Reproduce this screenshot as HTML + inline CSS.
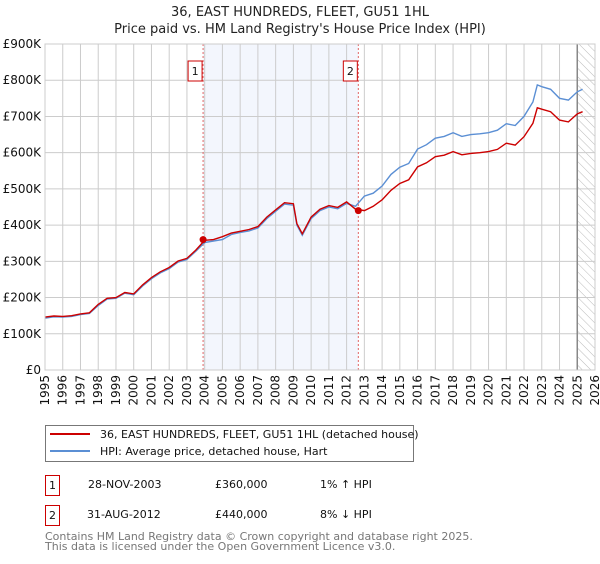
<!DOCTYPE html>
<html><head><meta charset="utf-8"><style>
body{margin:0;background:#fff;width:600px;height:560px;overflow:hidden;font-family:"DejaVu Sans","Liberation Sans",sans-serif;}
svg text{font-family:"DejaVu Sans","Liberation Sans",sans-serif;}
</style></head><body>
<svg id="c" width="600" height="560">
<defs><pattern id="hatch" width="6" height="6" patternUnits="userSpaceOnUse" patternTransform="rotate(-45)"><line x1="0" y1="0" x2="0" y2="6" stroke="#bbb" stroke-width="1"/></pattern></defs>
<text x="300" y="16" text-anchor="middle" font-size="13" fill="#222">36, EAST HUNDREDS, FLEET, GU51 1HL</text>
<text x="300" y="33" text-anchor="middle" font-size="13" fill="#222">Price paid vs. HM Land Registry's House Price Index (HPI)</text>
<g id="plot"></g>
<g>
<rect x="45.5" y="425.5" width="368" height="36" fill="#fff" stroke="#777"/>
<line x1="50" y1="434" x2="90" y2="434" stroke="#cc0000" stroke-width="2"/>
<text x="100" y="438" font-size="11" fill="#111">36, EAST HUNDREDS, FLEET, GU51 1HL (detached house)</text>
<line x1="50" y1="451" x2="90" y2="451" stroke="#5b8fd4" stroke-width="2"/>
<text x="100" y="455" font-size="11" fill="#111">HPI: Average price, detached house, Hart</text>
</g>
<g font-size="11" fill="#111">
<rect x="45.5" y="475.5" width="14" height="20" fill="#fff" stroke="#cc0000"/><text x="52.5" y="489" text-anchor="middle">1</text>
<text x="88" y="488">28-NOV-2003</text><text x="215" y="488">£360,000</text><text x="320" y="488">1% ↑ HPI</text>
<rect x="45.5" y="505.5" width="14" height="20" fill="#fff" stroke="#cc0000"/><text x="52.5" y="519" text-anchor="middle">2</text>
<text x="87" y="518">31-AUG-2012</text><text x="215" y="518">£440,000</text><text x="320" y="518">8% ↓ HPI</text>
</g>
<text x="45" y="540" font-size="11" fill="#777">Contains HM Land Registry data © Crown copyright and database right 2025.</text>
<text x="45" y="550" font-size="11" fill="#777">This data is licensed under the Open Government Licence v3.0.</text>
</svg>
<script>
const years=[1995,1995.5,1996,1996.5,1997,1997.5,1998,1998.5,1999,1999.5,2000,2000.5,2001,2001.5,2002,2002.5,2003,2003.5,2004,2004.5,2005,2005.5,2006,2006.5,2007,2007.5,2008,2008.5,2009,2009.2,2009.5,2010,2010.5,2011,2011.5,2012,2012.5,2013,2013.5,2014,2014.5,2015,2015.5,2016,2016.5,2017,2017.5,2018,2018.5,2019,2019.5,2020,2020.5,2021,2021.5,2022,2022.5,2022.75,2023,2023.5,2024,2024.5,2025,2025.3];
const hpiValues=[143,147,146,148,153,156,178,196,198,212,208,232,252,268,280,298,305,328,352,356,360,374,380,384,392,418,438,458,455,400,372,418,440,450,445,460,452,480,488,508,540,560,570,610,622,640,645,655,645,650,652,655,662,680,675,700,740,787,782,775,750,745,768,775];
const priceValues=[146,149,148,150,155,158,181,198,200,214,210,235,255,271,283,301,308,331,358,360,368,378,383,388,396,422,442,462,459,404,376,422,444,454,449,464,444,440,452,470,496,515,525,561,572,589,593,603,594,598,600,603,609,626,621,644,681,724,720,713,690,685,707,713];
const saleYears=[2003.91,2012.66];
const saleValues=[360,440];
const yTicks=[0,100,200,300,400,500,600,700,800,900];
const yTickLabels=["£0","£100K","£200K","£300K","£400K","£500K","£600K","£700K","£800K","£900K"];
const xTicks=[1995,1996,1997,1998,1999,2000,2001,2002,2003,2004,2005,2006,2007,2008,2009,2010,2011,2012,2013,2014,2015,2016,2017,2018,2019,2020,2021,2022,2023,2024,2025,2026];
const X0=45,X1=595,Y0=370,Y1=44;
const xs=y=>X0+(y-1995)/(2026-1995)*(X1-X0);
const ys=v=>Y0-v/900*(Y0-Y1);
const NS="http://www.w3.org/2000/svg";
const g=document.getElementById('plot');
function mk(t,a,p){const e=document.createElementNS(NS,t);for(const k in a)e.setAttribute(k,a[k]);(p||g).appendChild(e);return e;}
let sh=mk('rect',{x:xs(saleYears[0]),y:Y1,width:xs(saleYears[1])-xs(saleYears[0]),height:Y0-Y1,fill:'#f3f6fd'});


let ht=mk('rect',{x:xs(2025),y:Y1,width:X1-xs(2025),height:Y0-Y1,fill:'url(#hatch)'});


yTicks.forEach((v,i)=>{
 let l=mk('line',{x1:X0,x2:X1,y1:ys(v),y2:ys(v),stroke:'#ccc'});
 
 
 let t=mk('text',{x:X0-4,y:ys(v)+4,'text-anchor':'end','font-size':'12',fill:'#111'});t.textContent=yTickLabels[i];
 
 
});
xTicks.forEach(yr=>{
 let l=mk('line',{x1:xs(yr),x2:xs(yr),y1:Y1,y2:Y0,stroke:'#ccc'});
 
 
 let t=mk('text',{x:0,y:0,'text-anchor':'end','font-size':'12',fill:'#111',transform:`translate(${xs(yr)+4},${Y0+5}) rotate(-90)`});t.textContent=yr;
 
 
});
let vl=mk('line',{x1:xs(2025),x2:xs(2025),y1:Y1,y2:Y0,stroke:'#888','stroke-width':1.5});


saleYears.forEach((yr,i)=>{
 let l=mk('line',{x1:xs(yr),x2:xs(yr),y1:Y1,y2:Y0,stroke:'#e06666','stroke-dasharray':'2,2'});
 
 
 let b=mk('rect',{x:xs(yr)-15,y:61,width:14,height:20,fill:'#fff',stroke:'#cc0000'});
 
 
 let t=mk('text',{x:xs(yr)-8,y:75,'text-anchor':'middle','font-size':'11',fill:'#111'});t.textContent=String(i+1);
 
 
});
function path(vals){return vals.map((v,i)=>(i?'L':'M')+xs(years[i]).toFixed(1)+','+ys(v).toFixed(1)).join('');}
let hp=mk('path',{d:path(hpiValues),fill:'none',stroke:'#5b8fd4','stroke-width':1.4});


let pp=mk('path',{d:path(priceValues),fill:'none',stroke:'#cc0000','stroke-width':1.4});


saleYears.forEach((yr,i)=>{
 let c=mk('circle',{cx:xs(yr),cy:ys(saleValues[i]),r:3.5,fill:'#cc0000'});
 
 
});
let fr=mk('rect',{x:X0,y:Y1,width:X1-X0,height:Y0-Y1,fill:'none',stroke:'#ccc'});


</script>
</body></html>
